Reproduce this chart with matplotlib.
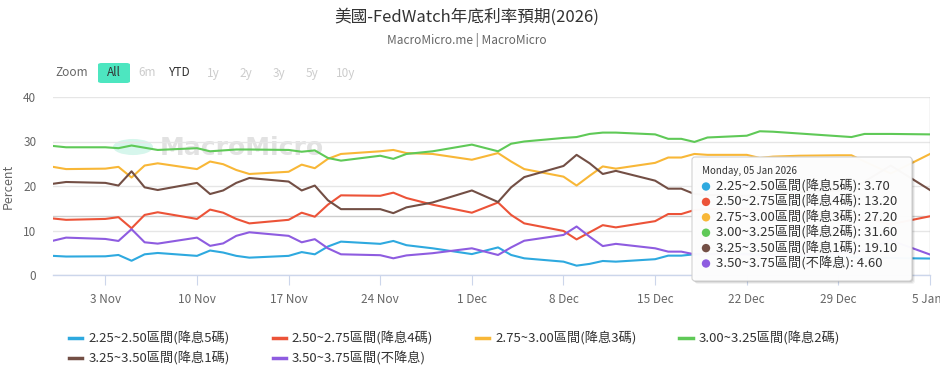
import matplotlib
matplotlib.use("Agg")
import matplotlib.pyplot as plt
import matplotlib.dates as mdates
import matplotlib.transforms as mtransforms
from matplotlib.patches import FancyBboxPatch, Circle
import numpy as np
import pandas as pd

plt.rcParams['font.family'] = ['Noto Sans CJK TC', 'DejaVu Sans']

# ---------------- data ----------------
dates = pd.to_datetime([
    "2025-10-30", "2025-10-31",
    "2025-11-03", "2025-11-04", "2025-11-05", "2025-11-06", "2025-11-07",
    "2025-11-10", "2025-11-11", "2025-11-12", "2025-11-13", "2025-11-14",
    "2025-11-17", "2025-11-18", "2025-11-19", "2025-11-20", "2025-11-21",
    "2025-11-24", "2025-11-25", "2025-11-26", "2025-11-28",
    "2025-12-01", "2025-12-03", "2025-12-04", "2025-12-05",
    "2025-12-08", "2025-12-09", "2025-12-10", "2025-12-11", "2025-12-12",
    "2025-12-15", "2025-12-16", "2025-12-17", "2025-12-18", "2025-12-19",
    "2025-12-22", "2025-12-23", "2025-12-24", "2025-12-26",
    "2025-12-29", "2025-12-30", "2025-12-31", "2026-01-02",
    "2026-01-05",
])

cut5 = [4.3, 4.15, 4.2, 4.5, 3.2, 4.65, 4.95, 4.3, 5.5, 5.05, 4.3, 3.9,
        4.3, 5.15, 4.65, 6.4, 7.5, 7.0, 7.65, 6.7, 6.0, 4.7, 6.2, 4.5, 3.75,
        3.0, 2.1, 2.5, 3.15, 3.0, 3.55, 4.35, 4.35, 4.65, 4.7, 4.8, 4.6, 4.5,
        4.3, 4.1, 4.0, 3.9, 3.8, 3.7]
cut4 = [12.7, 12.4, 12.6, 13.0, 10.5, 13.5, 14.1, 12.6, 14.7, 14.0, 12.6, 11.6,
        12.4, 14.0, 13.1, 15.8, 17.9, 17.8, 18.5, 17.3, 15.8, 14.0, 16.3, 13.5, 11.6,
        9.9, 8.0, 9.6, 11.2, 10.7, 12.1, 13.7, 13.7, 14.6, 14.8, 14.9, 14.5, 14.3,
        14.0, 13.7, 13.4, 12.8, 11.4, 13.2]
cut3 = [24.3, 23.8, 23.9, 24.3, 21.9, 24.6, 25.1, 23.8, 25.5, 24.9, 23.6, 22.7,
        23.2, 24.8, 24.0, 26.1, 27.2, 27.8, 28.1, 27.4, 27.2, 25.9, 27.4, 25.5, 23.8,
        22.1, 20.1, 22.3, 24.4, 23.9, 25.2, 26.4, 26.4, 27.2, 27.0, 27.0, 26.3, 26.6,
        26.8, 26.9, 26.9, 25.5, 22.8, 27.2]
cut2 = [29.0, 28.7, 28.7, 28.5, 29.1, 28.6, 28.1, 28.5, 27.8, 28.0, 28.2, 28.2,
        28.1, 27.7, 28.0, 26.3, 25.7, 26.8, 26.1, 27.2, 27.8, 29.3, 27.8, 29.5, 30.0,
        30.8, 31.0, 31.7, 32.0, 32.0, 31.6, 30.6, 30.6, 29.9, 30.9, 31.3, 32.3, 32.2,
        31.8, 31.2, 31.0, 31.7, 31.7, 31.6]
cut1 = [20.5, 20.9, 20.7, 20.1, 23.3, 19.7, 19.1, 20.7, 18.2, 19.0, 20.7, 21.8,
        21.0, 19.0, 20.1, 16.8, 14.8, 14.8, 13.9, 15.2, 16.3, 19.0, 16.4, 19.7, 22.0,
        24.5, 27.0, 25.1, 22.7, 23.4, 21.2, 19.4, 19.4, 18.2, 18.0, 17.8, 18.0, 18.3,
        18.6, 19.0, 19.3, 21.0, 24.6, 19.1]
nocut = [7.7, 8.4, 8.1, 7.65, 10.3, 7.35, 7.05, 8.4, 6.55, 7.1, 8.8, 9.6,
         8.8, 7.35, 8.05, 6.0, 4.65, 4.45, 3.75, 4.4, 4.9, 6.0, 4.5, 6.2, 7.7,
         9.0, 10.9, 8.6, 6.5, 7.0, 6.0, 5.25, 5.25, 4.65, 4.7, 4.6, 4.4, 4.5,
         4.7, 4.9, 5.0, 5.6, 7.8, 4.6]

series_names = ["2.25~2.50區間(降息5碼)", "2.50~2.75區間(降息4碼)", "2.75~3.00區間(降息3碼)",
                "3.00~3.25區間(降息2碼)", "3.25~3.50區間(降息1碼)", "3.50~3.75區間(不降息)"]
series_values = [cut5, cut4, cut3, cut2, cut1, nocut]
series_colors = ["#2ea9df", "#ec5338", "#f8b737", "#5fc957", "#734f45", "#8e5ce0"]

xtick_dates = pd.to_datetime(["2025-11-03", "2025-11-10", "2025-11-17", "2025-11-24",
                              "2025-12-01", "2025-12-08", "2025-12-15", "2025-12-22",
                              "2025-12-29", "2026-01-05"])
yticks = [0, 10, 20, 30, 40]

title = "美國-FedWatch年底利率預期(2026)"
subtitle = "MacroMicro.me | MacroMicro"

# ---------------- layout helpers ----------------
W, H = 940, 377
def fx(px):
    return px / W
def fy(py):
    return 1 - py / H

fig = plt.figure(figsize=(W / 100, H / 100), dpi=100)
fig.patch.set_facecolor("white")

# watermark (behind the plot)
fig.patches.append(Circle((fx(133), fy(147)), 20 / W, transform=fig.transFigure,
                          facecolor="#d6f6ec", edgecolor="none", zorder=-2))
fig.text(fx(160), fy(148), "MacroMicro", fontsize=18, fontweight="bold",
         color="#e2e2e2", ha="left", va="center", zorder=-1, family="DejaVu Sans")

ax = fig.add_axes([fx(53), fy(275), fx(930) - fx(53), (275 - 97) / H])
ax.set_facecolor("none")

for name, vals, col in zip(series_names, series_values, series_colors):
    ax.plot(dates, vals, color=col, lw=1.5, label=name, zorder=3, solid_joinstyle="round")

x0 = pd.Timestamp("2025-10-30")
x1 = pd.Timestamp("2026-01-05")
ax.set_xlim(x0, x1)
ax.set_ylim(0, 40)
ax.set_yticks(yticks)
ax.set_xticks(xtick_dates)
ax.xaxis.set_major_formatter(mdates.DateFormatter("%-d %b"))
ax.grid(axis="y", color="#e6e6e6", lw=1, zorder=0)
for s in ["top", "right", "left"]:
    ax.spines[s].set_visible(False)
ax.spines["bottom"].set_color("#ccd6eb")
ax.spines["bottom"].set_linewidth(1)
ax.tick_params(axis="x", length=7, width=0.8, color="#ccd6eb", labelcolor="#666666",
               labelsize=8.5, pad=6)
ax.tick_params(axis="y", length=0, labelcolor="#666666", labelsize=8.5, pad=12)
ax.set_ylabel("Percent", color="#666666", fontsize=9, labelpad=6)

# keep the last date label inside the figure
fig.canvas.draw()
last_lab = ax.get_xticklabels()[-1]
last_lab.set_transform(last_lab.get_transform() +
                       mtransforms.ScaledTranslation(-3 / 100, 0, fig.dpi_scale_trans))

# crosshairs at last point
ax.axvline(dates[-1], color="#cccccc", lw=1, zorder=2)
ax.axhline(cut4[-1], color="#cccccc", lw=1, zorder=2)

# title / subtitle
fig.text(0.497, fy(17), title, ha="center", va="center", fontsize=12, color="#333333")
fig.text(0.497, fy(40), subtitle, ha="center", va="center", fontsize=8.5, color="#666666")

# range selector
fig.text(fx(55), fy(73), "Zoom", ha="left", va="center", fontsize=8.5, color="#666666")
fig.patches.append(FancyBboxPatch((fx(98), fy(83)), 32 / W, 20 / H,
                                  boxstyle="round,pad=0,rounding_size=0.004",
                                  transform=fig.transFigure, facecolor="#4de6c0",
                                  edgecolor="none", zorder=1))
fig.text(fx(114), fy(73), "All", ha="center", va="center", fontsize=8.5, color="#333333")
for lab, px, col in [("6m", 147, "#cccccc"), ("YTD", 180, "#333333"), ("1y", 213, "#cccccc"),
                     ("2y", 246, "#cccccc"), ("3y", 279, "#cccccc"), ("5y", 312, "#cccccc"),
                     ("10y", 346, "#cccccc")]:
    fig.text(fx(px), fy(73), lab, ha="center", va="center", fontsize=8.5, color=col)

# legend (row-major order for 4 columns)
handles, labels = ax.get_legend_handles_labels()
order = [0, 4, 1, 5, 2, 3]
leg = fig.legend([handles[i] for i in order], [labels[i] for i in order], ncol=4,
                 loc="upper left", bbox_to_anchor=(fx(64), fy(326)), frameon=False,
                 fontsize=9.5, handlelength=1.0, handletextpad=0.45, columnspacing=3.25,
                 labelspacing=0.5, borderaxespad=0)
for t in leg.get_texts():
    t.set_color("#333333")
for l in leg.get_lines():
    l.set_linewidth(2.5)

# tooltip overlay
ov = fig.add_axes([0, 0, 1, 1], zorder=10)
ov.set_xlim(0, W)
ov.set_ylim(H, 0)
ov.axis("off")
ov.set_facecolor("none")
bx0, by0, bx1, by1 = 692, 157, 912, 281
for k, a in [(3, 0.05), (2, 0.08), (1, 0.12)]:
    ov.add_patch(FancyBboxPatch((bx0 + k, by0 + k), bx1 - bx0, by1 - by0,
                                boxstyle="round,pad=0,rounding_size=3",
                                facecolor="black", edgecolor="none", alpha=a))
ov.add_patch(FancyBboxPatch((bx0, by0), bx1 - bx0, by1 - by0,
                            boxstyle="round,pad=0,rounding_size=3",
                            facecolor="white", edgecolor="#d0d0d0", lw=0.8, alpha=0.97))
ov.text(702, 171, dates[-1].strftime("%A, %d %b %Y"), fontsize=7, color="#333333",
        ha="left", va="center")
for i, (name, vals, col) in enumerate(zip(series_names, series_values, series_colors)):
    yy = 186.5 + i * 15.4
    ov.add_patch(Circle((706, yy), 4.2, facecolor=col, edgecolor="none"))
    ov.text(716, yy, f"{name}: {vals[-1]:.2f}", fontsize=9.5, color="#333333",
            ha="left", va="center")

fig.savefig("out.png", dpi=100, facecolor="white")
